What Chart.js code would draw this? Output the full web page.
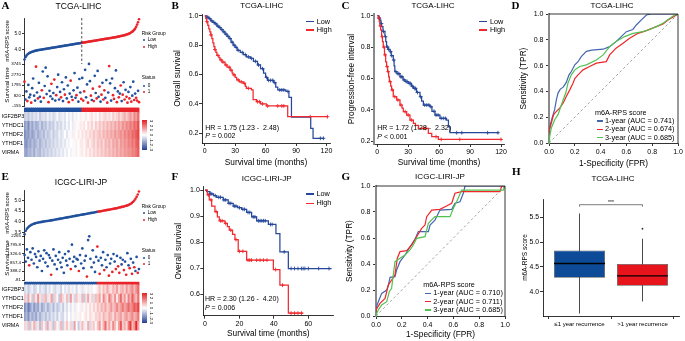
<!DOCTYPE html>
<html><head><meta charset="utf-8">
<script src="https://cdn.jsdelivr.net/npm/chart.js@4.4.1/dist/chart.umd.min.js"></script>
<style>
html,body{margin:0;padding:0;background:#fff;}
#root{position:relative;width:685px;height:341px;overflow:hidden;background:#fff;font-family:'Liberation Sans',Arial,sans-serif;color:#000;}
#root canvas{position:absolute;}
.t{position:absolute;white-space:nowrap;line-height:1;}
.s{position:absolute;}
</style></head><body><div id="root"></div>
<script>
// ---------------- DATA ----------------
// Panel A (TCGA-LIHC) risk score, survival time (days), status, ordered by score
const A_score = [3.38,3.52,3.62,3.69,3.74,3.78,3.81,3.84,3.86,3.88,
 3.90,3.92,3.93,3.95,3.96,3.97,3.98,3.99,4.00,4.01,
 4.02,4.03,4.04,4.05,4.06,4.07,4.08,4.09,4.10,4.11,
 4.12,4.13,4.14,4.15,4.16,4.17,4.18,4.19,4.20,4.21,
 4.22,4.23,4.24,4.25,4.26,4.27,4.28,4.29,4.30,4.31,
 4.32,4.33,4.34,4.35,4.36,4.37,4.38,4.39,4.40,4.41,
 4.42,4.43,4.44,4.45,4.46,4.47,4.48,4.49,4.50,4.51,
 4.52,4.53,4.54,4.55,4.56,4.57,4.58,4.59,4.60,4.61,
 4.62,4.63,4.64,4.65,4.66,4.67,4.68,4.69,4.70,4.71,
 4.72,4.73,4.74,4.75,4.76,4.77,4.78,4.80,4.81,4.82,
 4.84,4.85,4.86,4.88,4.89,4.91,4.93,4.95,4.97,5.00,
 5.03,5.07,5.11,5.16,5.22,5.30,5.42,5.55,5.70,5.88];
const A_lowCount = 60;
const A_time = [2100,450,1200,300,1800,650,900,150,1500,2400,
 800,350,3500,1100,550,2000,700,250,1300,3050,
 600,1700,3400,950,2600,200,1250,750,1900,500,
 1050,2300,350,850,1600,2750,450,1150,650,2050,
 300,1400,900,2500,550,1750,200,1000,2200,700,
 400,1300,2900,600,850,1550,250,2350,1100,500,
 2450,350,1200,3200,650,1850,150,3750,2150,800,
 400,1450,300,2650,1050,550,3100,700,1650,250,
 900,2000,450,1300,600,2250,150,1100,3550,1950,
 350,2400,850,500,1500,3150,200,1200,650,1000,
 1750,300,900,2050,450,1350,700,150,1150,550,
 1600,250,800,2100,400,1000,600,350,1250,200];
const A_status = [1,0,0,1,0,0,0,1,0,0, 0,0,1,0,1,0,0,0,1,0, 1,0,0,0,0,1,0,0,1,0,
 0,1,0,1,0,0,0,0,1,0, 0,0,1,0,0,0,1,0,1,0, 1,0,0,0,1,0,0,0,0,1,
 0,1,1,0,0,0,1,0,0,1, 0,1,1,0,0,1,0,0,1,0, 1,0,1,1,0,0,1,0,1,0,
 0,0,1,1,0,0,1,0,1,0, 1,0,1,0,1,0,1,1,0,1, 0,1,0,0,1,0,1,1,0,1];
const genes = ['IGF2BP3','YTHDC1','YTHDF2','YTHDF1','VIRMA'];
const A_hmLowCols = 30;
const A_IGF2BP3 = [-0.8,-0.6,-0.9,-0.5,-0.7,-0.4,-0.6,-0.3,-0.8,-0.5,-0.4,-0.6,-0.2,-0.5,-0.3,-0.6,-0.4,-0.1,-0.5,-0.3,-0.2,-0.4,0.0,-0.3,-0.1,-0.4,0.1,-0.2,0.0,0.2,
 0.1,-0.1,0.3,0.0,0.2,0.4,0.1,0.3,0.0,0.5,0.2,0.4,0.6,0.3,0.5,0.2,0.7,0.4,0.6,0.9,0.5,0.8,1.1,0.7,1.0,1.4,0.9,1.6,1.3,2.0];
const A_YTHDC1 = [-1.6,-1.2,-1.8,-1.0,-1.4,-0.9,-1.3,-1.1,-0.7,-1.2,-0.8,-1.0,-0.5,-0.9,-0.6,-0.8,-0.3,-0.7,-0.4,-0.6,-0.2,-0.5,-0.1,-0.4,0.0,-0.3,0.2,-0.1,0.1,0.3,
 0.2,0.4,0.0,0.5,0.3,0.6,0.2,0.7,0.4,0.8,0.5,0.9,0.6,1.0,0.7,1.1,0.8,1.2,0.9,1.3,1.0,1.5,1.2,1.6,1.4,1.8,1.5,2.0,1.8,2.4];
const A_YTHDF2 = [-1.8,-1.4,-1.6,-1.1,-1.5,-1.2,-0.9,-1.3,-1.0,-0.8,-1.1,-0.6,-0.9,-0.7,-0.4,-0.8,-0.5,-0.6,-0.2,-0.5,-0.3,0.0,-0.4,-0.1,0.1,-0.2,0.2,0.0,0.3,0.1,
 0.4,0.2,0.5,0.3,0.6,0.4,0.8,0.5,0.7,0.9,0.6,1.0,0.8,1.1,0.9,1.2,1.0,1.4,1.1,1.3,1.5,1.2,1.7,1.4,1.8,1.6,2.0,1.9,2.2,2.5];
const A_YTHDF1 = [-1.5,-1.7,-1.2,-1.4,-1.0,-1.3,-1.1,-0.8,-1.2,-0.9,-0.7,-1.0,-0.6,-0.8,-0.5,-0.7,-0.4,-0.6,-0.3,-0.5,-0.2,-0.4,-0.1,-0.2,0.0,0.1,-0.1,0.2,0.0,0.3,
 0.3,0.1,0.4,0.6,0.2,0.5,0.7,0.4,0.8,0.6,0.9,0.5,1.0,0.8,1.1,0.7,1.2,1.0,1.3,0.9,1.4,1.2,1.5,1.3,1.7,1.5,1.9,1.6,2.1,2.3];
const A_VIRMA = [-1.3,-1.5,-1.1,-1.2,-0.9,-1.3,-0.8,-1.0,-1.1,-0.7,-0.9,-0.6,-0.8,-0.5,-0.7,-0.4,-0.6,-0.3,-0.5,-0.2,-0.4,-0.1,-0.3,0.0,-0.2,0.1,-0.1,0.2,0.0,0.2,
 0.3,0.1,0.4,0.2,0.5,0.3,0.6,0.4,0.7,0.5,0.8,0.6,0.9,0.7,1.0,0.8,1.1,0.9,1.2,1.0,1.3,1.1,1.4,1.3,1.5,1.4,1.7,1.6,1.9,2.2];

// Panel E (ICGC-LIRI-JP)
const E_score = [3.42,3.58,3.68,3.74,3.79,3.83,3.86,3.89,3.91,3.93,
 3.95,3.96,3.97,3.98,3.99,4.00,4.01,4.02,4.03,4.04,
 4.04,4.05,4.06,4.07,4.08,4.09,4.10,4.11,4.12,4.13,
 4.14,4.15,4.16,4.17,4.18,4.19,4.20,4.21,4.22,4.23,
 4.24,4.25,4.26,4.27,4.28,4.29,4.30,4.31,4.32,4.33,
 4.34,4.35,4.36,4.37,4.38,4.39,4.40,4.41,4.42,4.43,
 4.44,4.45,4.46,4.47,4.48,4.49,4.50,4.51,4.52,4.53,
 4.54,4.55,4.56,4.57,4.58,4.59,4.60,4.61,4.62,4.63,
 4.64,4.66,4.67,4.68,4.70,4.71,4.72,4.74,4.75,4.77,
 4.79,4.82,4.85,4.89,4.94,5.00,5.08,5.17,5.28,5.42];
const E_lowCount = 64;
const E_time = [1250,900,1550,1100,700,1400,1000,1600,800,1300,
 1150,600,1450,950,1200,400,1050,1500,850,1350,
 650,1250,1100,200,950,1550,750,1200,500,1000,
 1400,850,600,1100,300,1300,950,700,1450,1050,
 500,1800,900,1150,650,1050,1000,400,1250,800,
 1600,550,950,1200,100,2050,2250,1050,600,1500,
 850,350,1150,1700,950,250,1100,700,1400,450,
 1000,600,1250,150,800,1050,350,1300,900,500,
 1200,650,300,1100,750,1000,450,900,200,1350,
 700,550,1050,250,850,600,400,1150,300,500];
const E_status = [0,0,0,0,1,0,0,0,0,0, 0,0,0,0,0,0,0,0,0,0, 0,0,0,1,0,0,0,0,0,0,
 0,0,0,0,0,0,0,0,0,0, 1,0,0,0,0,0,0,1,0,0, 0,0,0,0,1,0,0,0,0,0,
 0,0,0,1,0,1,0,0,0,1, 0,0,0,1,0,0,1,0,0,1, 0,1,1,0,0,0,1,0,1,0, 0,1,0,1,0,1,0,0,1,0];
const E_hmLowCols = 38;
const E_IGF2BP3 = [-0.6,-0.3,-0.8,-0.4,-0.2,-0.7,-0.5,-0.1,-0.6,-0.3,-0.4,-0.8,-0.2,-0.5,0.1,-0.4,-0.6,-0.2,-0.3,-0.7,0.0,-0.4,-0.2,-0.5,0.2,-0.3,-0.1,-0.6,0.1,-0.2,-0.4,0.3,-0.1,-0.3,0.2,-0.2,0.0,0.1,
 0.4,0.8,0.3,0.9,0.5,1.2,0.6,0.4,1.0,0.7,1.3,0.5,0.9,1.1,0.6,1.4,0.8,1.2,1.6,0.9,1.5,2.0];
const E_YTHDC1 = [0.8,-0.5,1.2,0.2,-0.8,0.9,-0.3,1.5,0.4,-0.6,0.7,1.0,-0.4,0.3,1.3,-0.7,0.6,0.1,-0.9,1.1,0.5,-0.2,0.9,-0.5,1.4,0.2,-0.6,0.8,0.3,-0.3,1.0,-0.8,0.5,1.2,-0.2,0.6,-0.5,0.9,
 0.7,1.3,0.2,1.6,0.9,0.4,1.8,1.1,0.6,1.5,0.3,1.2,2.0,0.8,1.4,0.5,1.7,1.0,2.2,1.3,0.9,1.9];
const E_YTHDF2 = [-1.8,-1.2,-2.0,-1.5,-0.9,-1.6,-1.1,-1.4,-0.7,-1.3,-1.0,-0.6,-1.2,-0.8,-0.5,-1.1,-0.4,-0.9,-0.6,-0.3,-0.8,-0.2,-0.5,-0.1,-0.4,0.1,-0.3,0.2,0.0,-0.2,0.3,0.1,0.4,-0.1,0.5,0.2,0.6,0.3,
 0.8,0.5,1.0,0.7,1.2,0.6,0.9,1.4,0.8,1.1,1.6,1.0,1.3,1.8,1.2,1.5,2.0,1.4,1.7,2.2,1.9,2.5];
const E_YTHDF1 = [-1.5,-1.1,-1.7,-0.9,-1.3,-1.0,-1.4,-0.7,-1.2,-0.8,-0.6,-1.0,-0.5,-0.9,-0.4,-0.7,-0.3,-0.8,-0.2,-0.5,-0.6,-0.1,-0.4,0.0,-0.3,0.1,-0.2,0.2,-0.1,0.3,0.0,0.2,0.4,0.1,0.5,0.3,0.2,0.6,
 0.5,0.8,0.4,1.0,0.7,0.6,1.1,0.9,0.5,1.2,0.8,1.0,1.3,0.7,1.1,1.4,0.9,1.2,1.6,1.0,1.3,1.8];
const E_VIRMA = [0.6,-0.4,0.9,-0.8,0.3,1.1,-0.5,0.4,-1.0,0.8,0.2,-0.6,1.2,-0.3,0.5,-0.9,0.7,0.1,-0.4,1.0,-0.7,0.3,0.8,-0.2,0.6,-0.5,1.3,0.0,-0.8,0.4,0.9,-0.3,0.2,1.1,-0.6,0.5,0.7,-0.1,
 0.8,1.4,0.3,1.0,2.0,0.6,1.2,0.4,1.6,0.9,0.2,1.3,2.3,0.7,1.1,0.5,1.8,2.6,0.9,1.4,2.9,1.2];
const colorbarTicks = [3,2,1,0,-1,-2,-3];

// Kaplan-Meier curves: [time (months), survival]
const B_low = [[0,1],[2,0.99],[4,0.98],[6,0.965],[8,0.955],[10,0.945],[12,0.93],[14,0.92],[16,0.905],[18,0.89],[20,0.875],[22,0.86],[24,0.845],[26,0.82],[28,0.80],[30,0.785],[32,0.765],[35,0.75],[38,0.735],[41,0.72],[45,0.71],[48,0.69],[52,0.665],[55,0.64],[58,0.61],[60,0.58],[62,0.56],[68,0.545],[70,0.515],[72,0.495],[80,0.485],[83,0.445],[85.5,0.31],[104.5,0.234],[106.8,0.166],[117.5,0.166]];
const B_high = [[0,1],[1,0.98],[2,0.96],[3,0.935],[4,0.91],[5,0.89],[6,0.87],[7,0.845],[8,0.815],[9,0.79],[10,0.77],[11,0.75],[12,0.73],[14,0.715],[15,0.70],[17,0.685],[20,0.665],[22,0.65],[25,0.63],[27,0.61],[28,0.597],[30,0.58],[31.5,0.563],[34,0.55],[38,0.54],[40,0.52],[41,0.506],[46,0.495],[47.7,0.43],[51,0.415],[55,0.40],[60.7,0.386],[81.8,0.313],[121,0.313]];
const B_lowCens = [3,5,7,9,11,13,15,17,19,21,23,25,27,29,31,33,37,40,43,46,50,53,57,61,63,65,67,69,74,76,78,82,114,117];
const B_highCens = [2,6,10,13,16,18,21,24,26,29,33,36,39,43,52,54,57,62,72,76,78,104,121];
const C_low = [[0,1],[1.5,0.985],[2.6,0.972],[3.5,0.95],[4.2,0.93],[5.5,0.9],[7.4,0.866],[8.2,0.835],[9,0.8],[10.5,0.785],[12.3,0.77],[13.5,0.745],[15.5,0.717],[16.3,0.68],[17,0.643],[19,0.63],[22,0.61],[25,0.59],[27,0.58],[30,0.568],[33,0.55],[35,0.536],[38,0.51],[41.4,0.483],[43,0.455],[44.7,0.43],[51,0.419],[53,0.39],[56,0.366],[60.8,0.345],[67,0.334],[69,0.291],[70.5,0.253],[118,0.253]];
const C_high = [[0,1],[1,0.985],[1.9,0.962],[2.5,0.935],[3.2,0.909],[4.2,0.866],[5,0.835],[5.8,0.8],[7,0.75],[8.1,0.706],[9,0.675],[10,0.643],[11,0.61],[11.7,0.579],[13,0.55],[13.9,0.526],[15.5,0.483],[18.8,0.462],[22,0.43],[24,0.41],[25.2,0.387],[28.5,0.366],[31.7,0.334],[35,0.313],[37,0.3],[39.8,0.281],[49.5,0.249],[52.8,0.228],[59.2,0.21],[120.7,0.21]];
const C_lowCens = [2,4,6,8,10,11,13,14,16,18,20,21,23,24,26,28,29,31,32,34,36,37,39,42,46,48,50,52,55,57,59,62,64,66,77,82,107,117];
const C_highCens = [1.5,3,4.8,6.5,7.5,9.5,10.5,12.5,14.5,17,20,23,27,30,33,45,47,57,62,80,120];
const F_low = [[0,1],[1,0.994],[2.9,0.985],[5,0.978],[6.8,0.972],[10.6,0.962],[13.5,0.949],[16.4,0.938],[19,0.932],[21.3,0.926],[24.2,0.914],[27.1,0.897],[30,0.882],[36.8,0.868],[41.2,0.833],[43.5,0.763],[48.4,0.699],[73.5,0.699]];
const F_high = [[0,1],[1.4,0.981],[2.5,0.962],[3.9,0.938],[5.8,0.917],[7.2,0.897],[8.3,0.882],[11.6,0.872],[13,0.86],[14.1,0.846],[16,0.83],[17.4,0.81],[19.3,0.765],[24.2,0.731],[39.7,0.695],[43.5,0.635],[48.4,0.528],[57,0.528]];
const F_lowCens = [3,4,6,8,9,11,12,14,15,17,18,20,22,23,25,26,28,29,31,32,33,34,35,38,39,46,50,52,54,56,57,58,60,66,72];
const F_highCens = [2,3.5,6.5,9,10,12,15,18,20,22,25,26,27,30,32,34,36,41,45,50,52,54,56];
const B_stats = ['HR = 1.75 (1.23 -&nbsp; 2.48)', '<i>P</i> = 0.002'];
const C_stats = ['HR = 1.72 (1.28 -&nbsp; 2.32)', '<i>P</i> &lt; 0.001'];
const F_stats = ['HR = 2.30 (1.26 -&nbsp; 4.20)', '<i>P</i> = 0.006'];

// ROC curves: [FPR, TPR]
const D_roc1 = [[0,0],[0,0.077],[0.01,0.14],[0.023,0.19],[0.044,0.26],[0.057,0.335],[0.07,0.387],[0.088,0.418],[0.11,0.433],[0.134,0.47],[0.155,0.528],[0.173,0.554],[0.2,0.606],[0.225,0.63],[0.25,0.67],[0.29,0.71],[0.33,0.72],[0.42,0.727],[0.47,0.747],[0.52,0.786],[0.56,0.825],[0.6,0.863],[0.65,0.88],[0.677,0.915],[0.716,0.954],[0.755,0.992],[0.79,1],[1,1]];
const D_roc2 = [[0,0],[0,0.09],[0.018,0.155],[0.036,0.22],[0.057,0.245],[0.083,0.27],[0.11,0.31],[0.134,0.36],[0.16,0.41],[0.186,0.464],[0.2,0.5],[0.225,0.528],[0.264,0.567],[0.315,0.593],[0.367,0.619],[0.444,0.631],[0.47,0.683],[0.52,0.735],[0.574,0.773],[0.625,0.812],[0.69,0.85],[0.755,0.871],[0.832,0.902],[0.884,0.923],[0.922,0.954],[0.96,0.974],[0.987,0.992],[1,1]];
const D_roc3 = [[0,0],[0.005,0.05],[0.018,0.116],[0.044,0.18],[0.07,0.22],[0.083,0.258],[0.11,0.335],[0.13,0.387],[0.147,0.464],[0.173,0.528],[0.2,0.567],[0.238,0.593],[0.29,0.606],[0.367,0.644],[0.42,0.683],[0.47,0.747],[0.52,0.786],[0.587,0.825],[0.651,0.85],[0.729,0.863],[0.78,0.88],[0.832,0.902],[0.884,0.928],[0.935,0.966],[0.974,0.992],[1,1]];
const D_labels = ['1-year (AUC = 0.741)','2-year (AUC = 0.674)','3-year (AUC = 0.685)'];
const G_roc1 = [[0,0],[0,0.06],[0.018,0.11],[0.044,0.174],[0.083,0.2],[0.096,0.238],[0.109,0.297],[0.147,0.303],[0.16,0.354],[0.186,0.418],[0.225,0.469],[0.264,0.533],[0.302,0.59],[0.328,0.649],[0.406,0.649],[0.419,0.7],[0.457,0.738],[0.496,0.815],[0.587,0.82],[0.612,0.867],[0.651,0.879],[0.677,0.944],[0.69,1],[1,1]];
const G_roc2 = [[0,0],[0,0.046],[0.031,0.097],[0.07,0.136],[0.096,0.238],[0.121,0.277],[0.147,0.315],[0.165,0.444],[0.186,0.495],[0.238,0.503],[0.276,0.546],[0.315,0.61],[0.354,0.674],[0.38,0.7],[0.393,0.764],[0.432,0.815],[0.496,0.82],[0.535,0.841],[0.587,0.867],[0.612,0.944],[0.664,0.956],[0.961,0.956],[0.974,1],[1,1]];
const G_roc3 = [[0,0],[0.005,0.02],[0.018,0.046],[0.044,0.085],[0.083,0.11],[0.103,0.187],[0.121,0.213],[0.147,0.418],[0.186,0.444],[0.225,0.469],[0.264,0.508],[0.289,0.546],[0.315,0.597],[0.38,0.61],[0.406,0.713],[0.457,0.764],[0.574,0.764],[0.6,0.828],[0.625,0.879],[0.664,0.969],[0.987,0.969],[1,1]];
const G_labels = ['1-year (AUC = 0.710)','2-year (AUC = 0.711)','3-year (AUC = 0.685)'];
const chance = [[0,0],[1,1]];

// Panel H box plot
const H_groups = ['\u22641 year recurrence','>1 year recurrence'];
const H_min = [3.56, 3.80];
const H_q1 = [4.28, 4.12];
const H_median = [4.57, 4.32];
const H_q3 = [4.83, 4.56];
const H_max = [5.58, 5.07];
const H_outliers = [[], [5.27]];
const H_bracket = [5.755, 5.715];
const H_signif = '***';

// ---------------- RENDER ----------------
const FONT = "'Liberation Sans', Arial, sans-serif";
Chart.defaults.font.family = FONT;
Chart.defaults.color = '#000';
const root = document.getElementById('root');
const BLUE = '#21509c', RED = '#e8232a';
const KMB = '#27489a', KMR = '#f02a2f';
const RB = '#4466b0', RR = '#f0262b', RG = '#52c152';

function T(html, x, y, size, o = {}) {
  const d = document.createElement('div'); d.className = 't'; d.innerHTML = html;
  d.style.fontSize = size + 'px'; d.style.left = x + 'px'; d.style.top = y + 'px';
  let tr = o.anchor === 'c' ? 'translate(-50%,-50%)' : o.anchor === 'tl' ? '' : 'translateY(-50%)';
  if (o.rot) tr += ' rotate(' + o.rot + 'deg)';
  d.style.transform = tr;
  if (o.bold) d.style.fontWeight = 'bold';
  if (o.family) d.style.fontFamily = o.family;
  root.appendChild(d); return d;
}
function seg(x, y, w, color, lw) { const d = document.createElement('div'); d.className = 's'; Object.assign(d.style, {left: x + 'px', top: (y - lw / 2) + 'px', width: w + 'px', height: lw + 'px', background: color}); root.appendChild(d); }
function dot(x, y, r, color) { const d = document.createElement('div'); d.className = 's'; Object.assign(d.style, {left: (x - r) + 'px', top: (y - r) + 'px', width: 2 * r + 'px', height: 2 * r + 'px', background: color, borderRadius: '50%'}); root.appendChild(d); }

function zColor(z) {
  const t = Math.max(-3, Math.min(3, z)) / 3, a = Math.abs(t);
  const c = t < 0 ? [35, 62, 148] : [226, 30, 30];
  return 'rgb(' + c.map(v => Math.round(255 + (v - 255) * a)).join(',') + ')';
}

function ax(o) {
  return {
    type: o.type || 'linear', display: o.display !== false, min: o.min, max: o.max, offset: false, stacked: o.stacked,
    grid: {display: o.grid !== false, drawOnChartArea: false, drawTicks: true, tickLength: o.tl ?? 3, color: '#000', lineWidth: 0.8},
    border: {display: o.border !== false, color: o.bc || '#000', width: o.bw || 0.8},
    ticks: {stepSize: o.step, includeBounds: false, autoSkip: false, maxRotation: 0, minRotation: 0, padding: o.tp ?? 1,
      font: {size: o.fs || 7}, color: '#000', callback: o.fmt || (v => String(v)), crossAlign: o.ca || 'near'},
    title: {display: !!o.title, text: o.title || '', font: {size: o.ts || 8.3}, color: '#000', padding: {top: o.tpad || 0, bottom: o.tpad || 0}},
    afterBuildTicks: o.abt
  };
}

function mk(box, area, yw, xh, cfg) {
  const [L, Tp, W, H] = box, [aL, aT, aR, aB] = area;
  const c = document.createElement('canvas'); c.width = W; c.height = H;
  Object.assign(c.style, {left: L + 'px', top: Tp + 'px', width: W + 'px', height: H + 'px'});
  root.appendChild(c);
  const zp = s => { s.paddingLeft = 0; s.paddingRight = 0; s.paddingTop = 0; s.paddingBottom = 0; };
  cfg.options.scales.x.afterFit = s => { s.height = xh; zp(s); };
  cfg.options.scales.y.afterFit = s => { s.width = yw; zp(s); };
  cfg.options.layout = {padding: {left: aL - L - yw, top: aT - Tp, right: L + W - aR, bottom: Tp + H - aB - xh}};
  cfg.options.responsive = false; cfg.options.animation = false; cfg.options.maintainAspectRatio = false;
  cfg.options.plugins = Object.assign({legend: {display: false}, tooltip: {enabled: false}}, cfg.options.plugins || {});
  return new Chart(c, cfg);
}

// ---- risk score / survival / heatmap panels ----
function scorePanel(box, area, scores, lowCount, min, max, step, cut) {
  const plugins = [];
  if (cut) plugins.push({id: 'cut', afterDatasetsDraw(ch) {
    const x = ch.scales.x.getPixelForValue(lowCount - 0.5), a = ch.chartArea, ctx = ch.ctx;
    ctx.save(); ctx.strokeStyle = '#222'; ctx.lineWidth = 0.8; ctx.setLineDash([2.5, 2]);
    ctx.beginPath(); ctx.moveTo(x, a.top); ctx.lineTo(x, a.bottom); ctx.stroke(); ctx.restore(); }});
  mk(box, area, area[0] - box[0], 0, {type: 'scatter', plugins,
    data: {datasets: [{data: scores.map((v, i) => ({x: i, y: v})), pointRadius: 1.3, pointBorderWidth: 0,
      pointBackgroundColor: scores.map((v, i) => i < lowCount ? BLUE : RED), clip: false}]},
    options: {scales: {
      x: ax({min: -0.5, max: scores.length - 0.5, display: false}),
      y: ax({min, max, step, fs: 4.6, tl: 2, tp: 1, fmt: v => v.toFixed(1), title: 'm6A-RPS score', ts: 5.8, tpad: 3.7})}}});
}
function survPanel(box, area, times, status, min, max, step) {
  mk(box, area, area[0] - box[0], 0, {type: 'scatter',
    data: {datasets: [{data: times.map((v, i) => ({x: i, y: v})), pointRadius: 1.35, pointBorderWidth: 0,
      pointBackgroundColor: status.map(s => s ? RED : BLUE), clip: false}]},
    options: {scales: {
      x: ax({min: -0.5, max: times.length - 0.5, display: false}),
      y: ax({min, max, step, fs: 4.4, tl: 2, tp: 1, title: 'Survival time', ts: 6.2, tpad: 3.7})}}});
}
function heatPanel(box, area, rows, lowCols, strip) {
  const labels = rows[0].map((_, i) => String(i));
  const ds = [];
  for (let g = rows.length - 1; g >= 0; g--)
    ds.push({data: rows[g].map(() => 1), backgroundColor: rows[g].map(zColor), borderWidth: 0, barPercentage: 1, categoryPercentage: 1});
  ds.push({data: labels.map(() => strip), backgroundColor: labels.map((_, i) => i < lowCols ? BLUE : RED), borderWidth: 0, barPercentage: 1, categoryPercentage: 1});
  const padL = 1.7;
  mk(box, area, area[0] - box[0] - padL, 0, {type: 'bar', data: {labels, datasets: ds},
    options: {scales: {
      x: Object.assign(ax({type: 'category', display: false, stacked: true}), {offset: true}),
      y: ax({min: 0, max: genes.length + strip, stacked: true, grid: false, border: false, fs: 5.5, tp: 0, tl: 0, ca: 'far',
        abt: s => { s.ticks = genes.map((g, i) => ({value: genes.length - 0.5 - i})); },
        fmt: v => genes[Math.round(genes.length - 0.5 - v)]})}}});
}
function colorbar(x, y, w, h) {
  const d = document.createElement('div'); d.className = 's';
  Object.assign(d.style, {left: x + 'px', top: y + 'px', width: w + 'px', height: h + 'px',
    background: 'linear-gradient(to bottom,' + zColor(3) + ',' + zColor(1.5) + ',#ffffff,' + zColor(-1.5) + ',' + zColor(-3) + ')'});
  root.appendChild(d);
  colorbarTicks.forEach((v, i) => T(String(v), x + w + 4.3, y + 1 + i * (h - 2) / (colorbarTicks.length - 1), 4.4, {anchor: 'c', rot: 90}));
}
function riskLegend(x, y1, y2) {
  T('Risk Group', x, y1, 4.8); dot(x + 2.3, y1 + 6, 1.2, BLUE); T('Low', x + 6, y1 + 6, 4.6);
  dot(x + 2.3, y1 + 12.4, 1.2, RED); T('High', x + 6, y1 + 12.4, 4.6);
  T('Status', x, y2, 4.8); dot(x + 2.3, y2 + 7.4, 1.2, BLUE); T('0', x + 6, y2 + 7.4, 4.6);
  dot(x + 2.3, y2 + 13.6, 1.2, RED); T('1', x + 6, y2 + 13.6, 4.6);
}

// Panel A
scorePanel([0, 10, 170, 58], [24, 18, 139.5, 66], A_score, A_lowCount, 3.1, 5.96, 1, true);
survPanel([0, 60, 170, 50], [24, 63, 139.5, 108.5], A_time, A_status, -155, 3745, 1000);
heatPanel([0, 105, 170, 55], [24, 107.5, 139.5, 157], [A_IGF2BP3, A_YTHDC1, A_YTHDF2, A_YTHDF1, A_VIRMA], A_hmLowCols, 0.55);
colorbar(141.7, 120, 5, 30);
riskLegend(141.7, 34.3, 78.3);
// Panel E
scorePanel([0, 185, 170, 55], [24, 190, 139.5, 236.5], E_score, E_lowCount, 3.34, 5.49, 0.5, false);
survPanel([0, 232, 170, 52], [24, 235.5, 139.5, 281.6], E_time, E_status, -81, 2265, 500);
heatPanel([0, 279, 170, 55], [24, 281.7, 139.5, 330.5], [E_IGF2BP3, E_YTHDC1, E_YTHDF2, E_YTHDF1, E_VIRMA], E_hmLowCols, 0.35);
colorbar(141.7, 292.7, 5, 30.6);
riskLegend(141.7, 207.3, 250.7);

// ---- Kaplan-Meier panels ----
function survAt(curve, t) { let s = curve[0][1]; for (const [ti, si] of curve) { if (ti <= t) s = si; else break; } return s; }
function kmPanel(box, area, yw, xh, low, high, lowC, highC, xr, yr, ystep, xstep, ytitle, ytpad, xtpad, ybc, ybw) {
  const line = (c, col) => ({data: c.map(p => ({x: p[0], y: p[1]})), showLine: true, stepped: true, borderColor: col, borderWidth: 1.25, pointRadius: 0, order: 2});
  const cens = (ts, c, col) => ({data: ts.map(t => ({x: t, y: survAt(c, t)})), pointStyle: 'cross', pointRadius: 1.9, pointBorderWidth: 0.9, pointBorderColor: col, showLine: false, order: 1, clip: false});
  mk(box, area, yw, xh, {type: 'scatter',
    data: {datasets: [cens(highC, high, KMR), cens(lowC, low, KMB), line(high, KMR), line(low, KMB)]},
    options: {scales: {
      x: ax({min: xr[0], max: xr[1], step: xstep, fs: 7, tl: 3, tp: 1, title: 'Survival time (months)', ts: 8.3, tpad: xtpad}),
      y: ax({min: yr[0], max: yr[1], step: ystep, fs: 7, tl: 3, tp: 0.5, fmt: v => v.toFixed(1), title: ytitle, ts: 8.3, tpad: ytpad, bc: ybc, bw: ybw})}}});
}
function kmLegend(x, y1, y2) { seg(x, y1, 8, KMB, 1.3); T('Low', x + 10.7, y1, 7.3); seg(x, y2, 8, KMR, 1.3); T('High', x + 10.7, y2, 7.3); }

kmPanel([170, 0, 170, 170], [202, 14, 330, 143], 32, 27, B_low, B_high, B_lowCens, B_highCens, [-2.7, 123.5], [0.134, 1.012], 0.2, 30, 'Overall survival', 3, 2);
kmLegend(306, 21.7, 30);
T(B_stats[0], 205.3, 126.7, 7); T(B_stats[1], 205.3, 135.3, 7);
kmPanel([340, 0, 170, 170], [374, 14, 504, 144], 34, 26, C_low, C_high, C_lowCens, C_highCens, [-3.2, 122.9], [0.181, 1.011], 0.2, 30, 'Progression-free interval', 6.7, 2.3, '#8a8a8a', 2);
kmLegend(479.3, 21.7, 30);
T(C_stats[0], 377.3, 126.7, 7); T(C_stats[1], 377.3, 135.7, 7);
kmPanel([170, 170, 170, 171], [203.3, 186.7, 333.3, 315.7], 33.3, 25.3, F_low, F_high, F_lowCens, F_highCens, [-0.97, 74.5], [0.518, 1.0127], 0.1, 20, 'Overall survival', 3.3, 2.7);
kmLegend(305.7, 194, 203.3);
T(F_stats[0], 205, 298.3, 7); T(F_stats[1], 205, 306.7, 7);

// ---- ROC panels ----
const frame = {id: 'frame', afterDatasetsDraw(ch) {
  const a = ch.chartArea, ctx = ch.ctx; ctx.save(); ctx.strokeStyle = '#000'; ctx.lineWidth = 0.8;
  ctx.beginPath(); ctx.moveTo(a.left, a.top); ctx.lineTo(a.right, a.top); ctx.lineTo(a.right, a.bottom); ctx.stroke(); ctx.restore(); }};
function rocPanel(box, area, yw, xh, curves, ytpad, xtpad) {
  const cols = [RB, RR, RG];
  const ds = curves.map((c, i) => ({data: c.map(p => ({x: p[0], y: p[1]})), showLine: true, borderColor: cols[i], borderWidth: 1.2, pointRadius: 0, order: 3 - i}));
  ds.push({data: chance.map(p => ({x: p[0], y: p[1]})), showLine: true, borderColor: '#8c8c8c', borderWidth: 0.8, borderDash: [2.5, 2.5], pointRadius: 0, order: 5});
  mk(box, area, yw, xh, {type: 'scatter', plugins: [frame], data: {datasets: ds},
    options: {scales: {
      x: ax({min: 0, max: 1, step: 0.2, fs: 7, tl: 3, tp: 1.5, fmt: v => v.toFixed(1), title: '1-Specificity (FPR)', ts: 8.3, tpad: xtpad}),
      y: ax({min: 0, max: 1, step: 0.2, fs: 7, tl: 3, tp: 2.5, fmt: v => v.toFixed(1), title: 'Sensitivity (TPR)', ts: 8.3, tpad: ytpad, bc: '#8a8a8a', bw: 2})}}});
}
function rocLegend(x, yt, labels, step) {
  T('m6A-RPS score', x, yt, 7.2);
  [RB, RR, RG].forEach((c, i) => { const y = yt + step * (i + 1); seg(x + 1.5, y, 6.5, c, 1.5); T(labels[i], x + 10, y, 7.3); });
}
rocPanel([510, 0, 175, 170], [549, 14, 678, 143], 39, 27, [D_roc1, D_roc2, D_roc3], 8.3, 1);
rocLegend(595, 112.7, D_labels, 8.33);
rocPanel([340, 170, 170, 171], [376, 186, 505, 316], 36, 25, [G_roc1, G_roc2, G_roc3], 5, 1.7);
rocLegend(423.3, 285, G_labels, 8.33);

// ---- Box plot panel H ----
const bracket = {id: 'bracket', afterDatasetsDraw(ch) {
  const x = ch.scales.x, y = ch.scales.y, ctx = ch.ctx;
  const x1 = x.getPixelForValue(1), x2 = x.getPixelForValue(2), yt = y.getPixelForValue(H_bracket[0]), yb = y.getPixelForValue(H_bracket[1]);
  ctx.save(); ctx.strokeStyle = '#444'; ctx.lineWidth = 0.7; ctx.beginPath();
  ctx.moveTo(x1, yb); ctx.lineTo(x1, yt); ctx.lineTo(x2, yt); ctx.lineTo(x2, yb); ctx.stroke();
  ctx.fillStyle = '#000'; ctx.font = "5px " + FONT; ctx.textAlign = 'center'; ctx.textBaseline = 'bottom';
  ctx.fillText(H_signif, (x1 + x2) / 2, yt); ctx.restore(); }};
const H_out = []; H_outliers.forEach((arr, i) => arr.forEach(v => H_out.push({x: i + 1, y: v})));
mk([510, 170, 175, 171], [543, 199, 679, 316], 33, 25, {type: 'bar', plugins: [bracket],
  data: {datasets: [
    {type: 'scatter', data: H_out, pointRadius: 0.9, pointBackgroundColor: '#333', pointBorderWidth: 0, order: 0},
    {data: H_median.map((m, i) => ({x: i + 1, y: [m - 0.014, m + 0.014]})), backgroundColor: '#000', borderWidth: 0, grouped: false, barPercentage: 0.81, categoryPercentage: 1, order: 1},
    {data: H_q1.map((q, i) => ({x: i + 1, y: [q, H_q3[i]]})), backgroundColor: ['#0d4b98', '#e8141b'], borderColor: '#555', borderWidth: 0.8, borderSkipped: false, grouped: false, barPercentage: 0.81, categoryPercentage: 1, order: 2},
    {data: H_min.map((m, i) => ({x: i + 1, y: [m, H_max[i]]})), backgroundColor: '#333', borderWidth: 0, grouped: false, barPercentage: 0.014, categoryPercentage: 1, order: 3}
  ]},
  options: {scales: {
    x: ax({min: 0.42, max: 2.58, fs: 6, tl: 3, tp: 2, abt: s => { s.ticks = H_groups.map((g, i) => ({value: i + 1})); }, fmt: v => H_groups[Math.round(v) - 1]}),
    y: ax({min: 3.51, max: 5.87, step: 0.5, fs: 6.8, tl: 3, tp: 1, fmt: v => v.toFixed(1), title: 'm6A-RPS score', ts: 6.5, tpad: 11})}}});

// ---- titles and panel letters ----
const SERIF = "'Liberation Serif','Times New Roman',serif";
[['A', 1.5, 0], ['B', 171.5, 0], ['C', 341.5, 0], ['D', 511.5, 0], ['E', 1.5, 171], ['F', 171.5, 171], ['G', 341.5, 171], ['H', 512, 166]]
  .forEach(([l, x, y]) => T(l, x, y, 11, {anchor: 'tl', bold: true, family: SERIF}));
T('TCGA-LIHC', 78.5, 6, 8.5, {anchor: 'c'});
T('TCGA-LIHC', 261.7, 6, 8, {anchor: 'c'});
T('TCGA-LIHC', 433, 6, 8, {anchor: 'c'});
T('TCGA-LIHC', 612, 6, 8, {anchor: 'c'});
T('ICGC-LIRI-JP', 81, 182, 8.5, {anchor: 'c'});
T('ICGC-LIRI-JP', 266.7, 179, 8.1, {anchor: 'c'});
T('ICGC-LIRI-JP', 440, 176.7, 8.1, {anchor: 'c'});
T('TCGA-LIHC', 613, 179.3, 8, {anchor: 'c'});
</script></body></html>
